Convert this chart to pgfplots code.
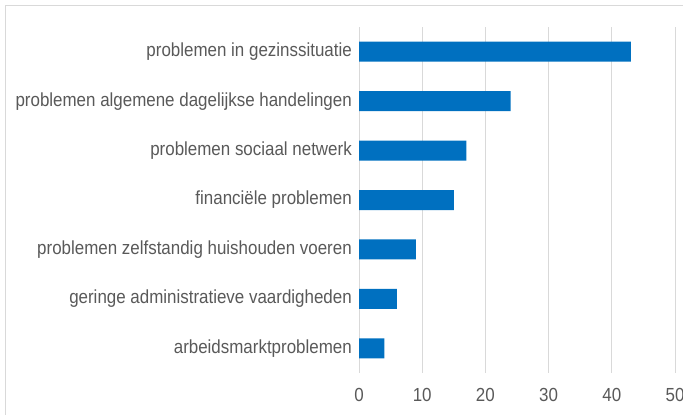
\documentclass[border=0pt]{standalone}
\usepackage{pgfplots}
\pgfplotsset{compat=1.18}
\usepackage{fontspec}
\setmainfont{Liberation Sans}[FakeStretch=0.895]
\definecolor{barblue}{HTML}{0070C0}
\definecolor{txt}{HTML}{595959}
\definecolor{gridc}{HTML}{D9D9D9}
\begin{document}
\begin{tikzpicture}
\useasboundingbox (0bp,0bp) rectangle (683bp,415bp);
\clip (0bp,0bp) rectangle (683bp,415bp);
\draw[gridc, line width=1bp] (5bp,-20bp) -- (5bp,409.5bp) -- (720bp,409.5bp);
\begin{axis}[at={(359bp,42bp)}, anchor=south west, scale only axis,
  width=316bp, height=346bp,
  xbar, bar width=20bp, xmin=0, xmax=50, ymin=-0.5, ymax=6.5, y dir=reverse,
  xtick={0,10,...,50}, ytick={0,...,6},
  yticklabels={problemen in gezinssituatie, problemen algemene dagelijkse handelingen, problemen sociaal netwerk, financiële problemen, problemen zelfstandig huishouden voeren, geringe administratieve vaardigheden, arbeidsmarktproblemen},
  axis line style={draw=none}, major tick length=0pt,
  xmajorgrids, grid style={gridc, line width=0.9bp},
  tick label style={font=\fontsize{19}{22}\selectfont, text=txt},
  yticklabel style={anchor=east, inner sep=0pt, xshift=-7bp},
  xticklabel style={anchor=north, inner sep=0pt, yshift=-15bp},
  /pgf/number format/assume math mode=true]
\addplot[fill=barblue, draw=none] coordinates {(43,0) (24,1) (17,2) (15,3) (9,4) (6,5) (4,6)};
\end{axis}
\end{tikzpicture}
\end{document}
